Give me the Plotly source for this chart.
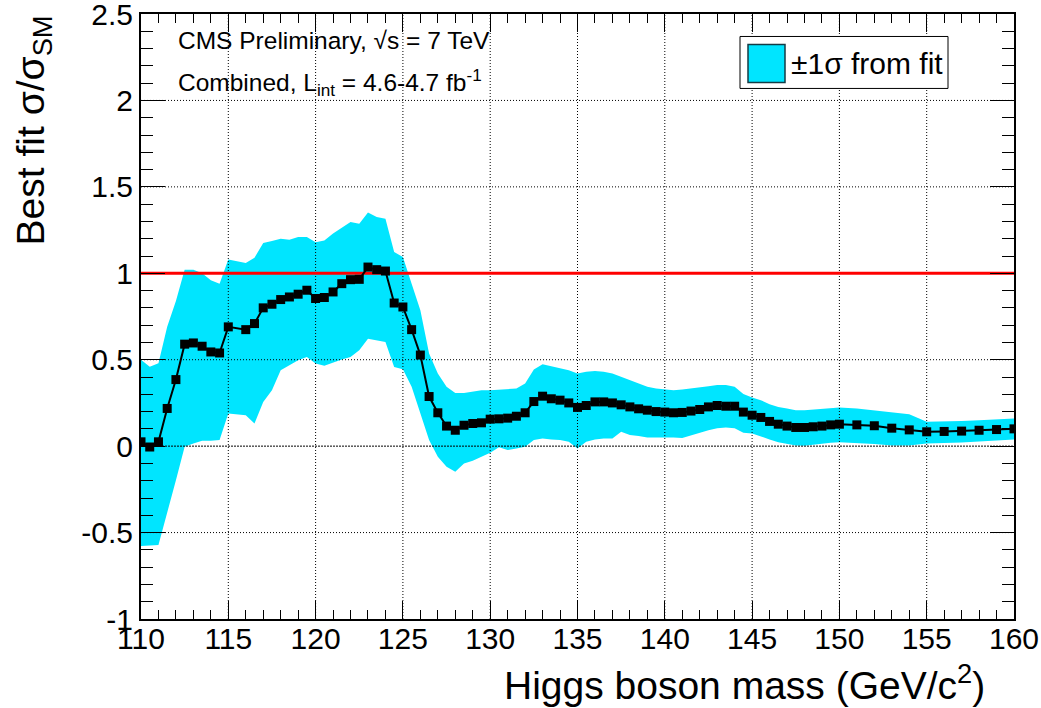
import plotly.graph_objects as go

# ---------------- data ----------------
mass = [110, 110.5, 111, 111.5, 112, 112.5, 113, 113.5, 114, 114.5, 115,
        116, 116.5, 117, 117.5, 118, 118.5, 119, 119.5, 120, 120.5, 121, 121.5,
        122, 122.5, 123, 123.5, 124, 124.5, 125, 125.5, 126, 126.5, 127, 127.5,
        128, 128.5, 129, 129.5, 130, 130.5, 131, 131.5, 132, 132.5, 133, 133.5,
        134, 134.5, 135, 135.5, 136, 136.5, 137, 137.5, 138, 138.5, 139, 139.5,
        140, 140.5, 141, 141.5, 142, 142.5, 143, 143.5, 144, 144.5, 145, 145.5,
        146, 146.5, 147, 147.5, 148, 148.5, 149, 149.5, 150,
        151, 152, 153, 154, 155, 156, 157, 158, 159, 160]

best_fit = [0.025, -0.005, 0.025, 0.218, 0.385, 0.590, 0.597, 0.578, 0.545, 0.539, 0.690,
            0.674, 0.709, 0.800, 0.821, 0.848, 0.863, 0.879, 0.902, 0.854, 0.860, 0.892, 0.940,
            0.963, 0.965, 1.036, 1.021, 1.013, 0.828, 0.805, 0.674, 0.527, 0.287, 0.193, 0.116,
            0.092, 0.121, 0.131, 0.135, 0.156, 0.158, 0.162, 0.173, 0.193, 0.258, 0.289, 0.274,
            0.266, 0.250, 0.224, 0.235, 0.256, 0.256, 0.250, 0.239, 0.227, 0.216, 0.208, 0.200,
            0.197, 0.193, 0.195, 0.203, 0.212, 0.227, 0.235, 0.231, 0.231, 0.197, 0.179, 0.166,
            0.143, 0.127, 0.116, 0.108, 0.108, 0.112, 0.116, 0.123, 0.127,
            0.123, 0.118, 0.104, 0.094, 0.083, 0.085, 0.087, 0.092, 0.096, 0.100]

band_up = [0.50, 0.46, 0.48, 0.69, 0.84, 1.02, 1.02, 1.00, 0.96, 0.94, 1.08,
           1.06, 1.09, 1.175, 1.187, 1.20, 1.194, 1.21, 1.21, 1.18, 1.19, 1.23, 1.264,
           1.297, 1.287, 1.351, 1.325, 1.316, 1.123, 1.094, 0.94, 0.786, 0.536, 0.42, 0.344,
           0.308, 0.308, 0.314, 0.324, 0.324, 0.328, 0.328, 0.333, 0.362, 0.444, 0.474, 0.462,
           0.449, 0.439, 0.42, 0.43, 0.435, 0.43, 0.42, 0.401, 0.378, 0.359, 0.344, 0.333,
           0.328, 0.324, 0.328, 0.333, 0.339, 0.347, 0.353, 0.353, 0.343, 0.301, 0.282, 0.266,
           0.243, 0.227, 0.218, 0.208, 0.208, 0.212, 0.214, 0.22, 0.224,
           0.218, 0.208, 0.199, 0.185, 0.141, 0.142, 0.146, 0.15, 0.156, 0.16]

band_lo = [-0.578, -0.575, -0.572, -0.389, -0.197, -0.004, 0.015, 0.031, 0.031, 0.035, 0.189,
           0.179, 0.131, 0.255, 0.324, 0.439, 0.468, 0.497, 0.516, 0.478, 0.465, 0.482, 0.501,
           0.516, 0.555, 0.622, 0.613, 0.603, 0.458, 0.445, 0.344, 0.19, 0.035, -0.061, -0.119,
           -0.148, -0.1, -0.085, -0.061, -0.038, -0.007, -0.023, -0.013, -0.004, 0.035, 0.044, 0.038,
           0.035, 0.025, -0.013, 0.025, 0.038, 0.044, 0.044, 0.083, 0.064, 0.058, 0.05, 0.05,
           0.05, 0.05, 0.047, 0.064, 0.077, 0.092, 0.104, 0.108, 0.104, 0.077, 0.073, 0.058,
           0.039, 0.023, 0.012, 0.004, 0.002, 0.006, 0.012, 0.019, 0.023,
           0.019, 0.012, 0.004, 0.004, 0.015, 0.019, 0.021, 0.027, 0.035, 0.039]

sm_ratio = 1.0
x_range = [110, 160]
y_range = [-1, 2.5]
x_ticks = [110, 115, 120, 125, 130, 135, 140, 145, 150, 155, 160]
x_ticktext = ["110", "115", "120", "125", "130", "135", "140", "145", "150", "155", "160"]
y_ticks = [-1, -0.5, 0, 0.5, 1, 1.5, 2, 2.5]
y_ticktext = ["-1", "-0.5", "0", "0.5", "1", "1.5", "2", "2.5"]

CYAN = "rgb(0,229,255)"
FONT = "Liberation Sans, Arial, Helvetica, sans-serif"

fig = go.Figure()

# +-1 sigma band
fig.add_trace(go.Scatter(
    x=mass + mass[::-1], y=band_up + band_lo[::-1],
    fill="toself", fillcolor=CYAN, line=dict(width=0, color=CYAN),
    mode="lines", hoverinfo="skip", showlegend=False))

# grid lines (drawn above band, as in the reference)
gx, gy = [], []
for v in x_ticks[1:-1]:
    gx += [v, v, None]
    gy += [y_range[0], y_range[1], None]
for v in y_ticks[1:-1]:
    if v == 0:
        continue
    gx += [x_range[0], x_range[1], None]
    gy += [v, v, None]
fig.add_trace(go.Scatter(x=gx, y=gy, mode="lines",
                         line=dict(color="black", width=1, dash="1px,2px"),
                         hoverinfo="skip", showlegend=False))
# zero line (denser)
fig.add_trace(go.Scatter(x=x_range, y=[0, 0], mode="lines",
                         line=dict(color="black", width=1, dash="2px,1px"),
                         hoverinfo="skip", showlegend=False))

# SM reference line
fig.add_trace(go.Scatter(x=x_range, y=[sm_ratio, sm_ratio], mode="lines",
                         line=dict(color="red", width=3),
                         hoverinfo="skip", showlegend=False))

# best fit
fig.add_trace(go.Scatter(
    x=mass, y=best_fit, mode="lines+markers",
    line=dict(color="black", width=2),
    marker=dict(symbol="square", size=9, color="black"),
    showlegend=False))

axis_common = dict(
    showline=True, linecolor="black", linewidth=2, mirror="allticks",
    ticks="inside", tickcolor="black", tickwidth=1,
    showgrid=False, zeroline=False, layer="above traces", automargin=False,
    ticklabeloverflow="allow",
    tickfont=dict(family=FONT, size=30, color="black"),
)

fig.update_xaxes(range=[x_range[0], x_range[1] + 1e-6], tickmode="array",
                 tickvals=x_ticks, ticktext=x_ticktext, ticklen=18,
                 ticklabelstandoff=-8,
                 minor=dict(dtick=1, ticklen=9, ticks="inside", tickcolor="black", showgrid=False),
                 **axis_common)
fig.update_yaxes(range=[y_range[0] - 1e-6, y_range[1] + 1e-6], tickmode="array",
                 tickvals=y_ticks, ticktext=y_ticktext, ticklen=24,
                 minor=dict(dtick=0.1, ticklen=12, ticks="inside", tickcolor="black", showgrid=False),
                 **axis_common)

annotations = [
    dict(text="Higgs boson mass (GeV/c<sup>2</sup>)", xref="paper", yref="paper",
         x=(987 - 141) / 873, y=(619 - 683) / 605.5, xanchor="right", yanchor="middle",
         showarrow=False, font=dict(family=FONT, size=39, color="black")),
    dict(text="Best fit σ/σ<sub>SM</sub>", xref="paper", yref="paper",
         x=(33 - 141) / 873, y=(619 - 130) / 605.5, xanchor="center", yanchor="middle",
         textangle=-90, showarrow=False,
         font=dict(family=FONT, size=39, color="black")),
    dict(text="CMS Preliminary, √s = 7 TeV", xref="paper", yref="paper",
         x=(176 - 141) / 873, y=(619 - 40) / 605.5, xanchor="left", yanchor="middle",
         showarrow=False, font=dict(family=FONT, size=24.5, color="black")),
    dict(text="Combined, L<sub>int</sub> = 4.6-4.7 fb<sup>-1</sup>", xref="paper", yref="paper",
         x=(176 - 141) / 873, y=(619 - 82) / 605.5, xanchor="left", yanchor="middle",
         showarrow=False, font=dict(family=FONT, size=24.5, color="black")),
    dict(text="±1σ from fit", xref="paper", yref="paper",
         x=(789 - 141) / 873, y=(619 - 63) / 605.5, xanchor="left", yanchor="middle",
         showarrow=False, font=dict(family=FONT, size=30, color="black")),
]

shapes = [
    # legend box
    dict(type="rect", xref="paper", yref="paper",
         x0=(740 - 141) / 873, x1=(948 - 141) / 873,
         y0=(619 - 88) / 605.5, y1=(619 - 36) / 605.5,
         line=dict(color="black", width=1), fillcolor="white", layer="above"),
    # legend swatch
    dict(type="rect", xref="paper", yref="paper",
         x0=(748 - 141) / 873, x1=(785 - 141) / 873,
         y0=(619 - 82) / 605.5, y1=(619 - 44) / 605.5,
         line=dict(color="rgb(20,60,70)", width=1.5), fillcolor=CYAN, layer="above"),
]

fig.update_layout(
    width=1041, height=708,
    margin=dict(l=141, r=27, t=14, b=89, autoexpand=False),
    paper_bgcolor="white", plot_bgcolor="white",
    annotations=annotations, shapes=shapes,
    showlegend=False,
    font=dict(family=FONT, color="black"),
)

fig.write_html("out.html")
